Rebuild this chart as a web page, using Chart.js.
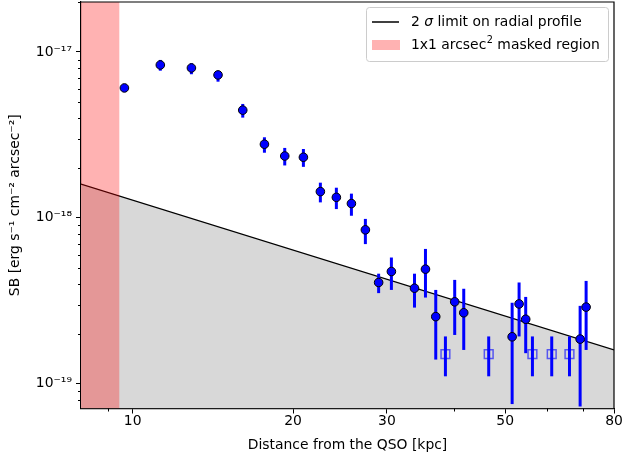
<!DOCTYPE html>
<html>
<head>
<meta charset="utf-8">
<script src="https://cdn.jsdelivr.net/npm/chart.js@4.4.0/dist/chart.umd.min.js"></script>
<style>
  html, body { margin: 0; padding: 0; background: #fff; }
  #wrap { width: 622px; height: 460px; }
</style>
</head>
<body>
<div id="wrap"><canvas id="sbChart" width="622" height="460"></canvas></div>
<script>
// radial profile (detections)
const distKpc = [9.65, 11.27, 12.89, 14.46, 16.09, 17.67, 19.29, 20.91, 22.50, 24.11, 25.73, 27.33,
  28.94, 30.58, 33.79, 35.43, 37.04, 40.20, 41.80, 51.52, 53.09, 54.63, 69.11, 70.92];
const sbValues = [6.07e-18, 8.35e-18, 8.01e-18, 7.27e-18, 4.46e-18, 2.78e-18, 2.36e-18, 2.32e-18, 1.44e-18, 1.33e-18, 1.22e-18, 8.47e-19,
  4.08e-19, 4.75e-19, 3.77e-19, 4.91e-19, 2.54e-19, 3.12e-19, 2.68e-19, 1.92e-19, 3.03e-19, 2.45e-19, 1.86e-19, 2.90e-19];
const sbLow = [5.85e-18, 7.71e-18, 7.34e-18, 6.62e-18, 4.02e-18, 2.47e-18, 2.07e-18, 2.03e-18, 1.24e-18, 1.13e-18, 1.03e-18, 6.95e-19,
  3.52e-19, 3.68e-19, 2.88e-19, 3.31e-19, 1.40e-19, 1.97e-19, 1.60e-19, 7.55e-20, 1.93e-19, 1.53e-19, 7.3e-20, 1.60e-19];
const sbHigh = [6.3e-18, 8.95e-18, 8.55e-18, 7.71e-18, 4.86e-18, 3.06e-18, 2.64e-18, 2.60e-18, 1.63e-18, 1.52e-18, 1.40e-18, 9.86e-19,
  4.61e-19, 5.77e-19, 4.61e-19, 6.50e-19, 3.68e-19, 4.23e-19, 3.74e-19, 3.08e-19, 4.08e-19, 3.34e-19, 2.95e-19, 4.17e-19];

// open squares (non detections)
const limDist = [38.62, 46.56, 56.24, 61.13, 66.00];
const limSB = [1.51e-19, 1.51e-19, 1.51e-19, 1.51e-19, 1.51e-19];
const limLow = [1.11e-19, 1.11e-19, 1.11e-19, 1.11e-19, 1.11e-19];
const limHigh = [1.93e-19, 1.93e-19, 1.93e-19, 1.93e-19, 1.93e-19];

// 2 sigma limit line and masked region
const sigmaX = [8, 80];
const sigmaY = [1.6e-18, 1.6e-19];
const maskX = [8, 9.45];

// axes
const xRange = [8, 80];
const yRange = [7.1e-20, 2.0e-17];
const xTicks = [10, 20, 30, 50, 80];
const xTickLabels = ['10', '20', '30', '50', '80'];
const xMinor = [9, 40, 60, 70];
const yTicks = [1e-19, 1e-18, 1e-17];
const yTickLabels = ['10⁻¹⁹', '10⁻¹⁸', '10⁻¹⁷'];

const FONT = "'DejaVu Sans', sans-serif";
const FS = 13.9;
Chart.defaults.font.family = FONT;
Chart.defaults.font.size = FS;
Chart.defaults.color = '#000';

const errs = {
  profile: { low: sbLow, high: sbHigh },
  limits: { low: limLow, high: limHigh }
};

// error bars drawn just before their points
const errorBars = {
  id: 'errorBars',
  beforeDatasetDraw(chart, args) {
    const ds = chart.data.datasets[args.index];
    const e = errs[ds.label];
    if (!e) return;
    const { ctx, scales: { x, y } } = chart;
    ctx.save();
    ctx.strokeStyle = '#0000ff';
    ctx.lineWidth = 3;
    ds.data.forEach((p, i) => {
      const px = x.getPixelForValue(p.x);
      ctx.beginPath();
      ctx.moveTo(px, y.getPixelForValue(e.low[i]));
      ctx.lineTo(px, y.getPixelForValue(e.high[i]));
      ctx.stroke();
    });
    ctx.restore();
  }
};

// minor ticks + top/right frame
const frameTicks = {
  id: 'frameTicks',
  afterDraw(chart) {
    const { ctx, chartArea: a, scales: { x, y } } = chart;
    ctx.save();
    ctx.strokeStyle = '#000';
    ctx.lineWidth = 1;
    xMinor.forEach(v => {
      const px = Math.round(x.getPixelForValue(v)) + 0.5;
      ctx.beginPath(); ctx.moveTo(px, a.bottom); ctx.lineTo(px, a.bottom + 3); ctx.stroke();
    });
    for (let d = -20; d <= -17; d++) {
      for (let m = 2; m <= 9; m++) {
        const v = m * Math.pow(10, d);
        if (v < yRange[0] || v > yRange[1]) continue;
        const py = Math.round(y.getPixelForValue(v)) + 0.5;
        ctx.beginPath(); ctx.moveTo(a.left, py); ctx.lineTo(a.left - 3, py); ctx.stroke();
      }
    }
    ctx.lineWidth = 1.2;
    ctx.beginPath();
    ctx.moveTo(a.left, a.top); ctx.lineTo(a.right, a.top); ctx.lineTo(a.right, a.bottom);
    ctx.stroke();
    ctx.restore();
  }
};

const legendBox = {
  id: 'legendBox',
  afterDraw(chart) {
    const ctx = chart.ctx;
    const bx = 366.5, by = 7.5, bw = 242, bh = 54, r = 3;
    ctx.save();
    ctx.beginPath();
    ctx.moveTo(bx + r, by);
    ctx.arcTo(bx + bw, by, bx + bw, by + bh, r);
    ctx.arcTo(bx + bw, by + bh, bx, by + bh, r);
    ctx.arcTo(bx, by + bh, bx, by, r);
    ctx.arcTo(bx, by, bx + bw, by, r);
    ctx.closePath();
    ctx.fillStyle = 'rgba(255,255,255,0.8)';
    ctx.fill();
    ctx.strokeStyle = '#cccccc';
    ctx.lineWidth = 1;
    ctx.stroke();

    ctx.strokeStyle = '#000';
    ctx.lineWidth = 1.5;
    ctx.beginPath(); ctx.moveTo(372, 22); ctx.lineTo(399, 22); ctx.stroke();
    ctx.fillStyle = 'rgba(255,0,0,0.3)';
    ctx.fillRect(372, 40, 28, 10);

    ctx.fillStyle = '#000';
    ctx.textBaseline = 'middle';
    let tx = 411;
    ctx.font = FS + 'px ' + FONT;
    ctx.fillText('2 ', tx, 22); tx += ctx.measureText('2 ').width;
    ctx.font = 'italic ' + FS + 'px ' + FONT;
    ctx.fillText('σ', tx, 22); tx += ctx.measureText('σ').width;
    ctx.font = FS + 'px ' + FONT;
    ctx.fillText(' limit on radial profile', tx, 22);

    tx = 411;
    ctx.fillText('1x1 arcsec', tx, 45); tx += ctx.measureText('1x1 arcsec').width;
    ctx.font = '9.7px ' + FONT;
    ctx.fillText('2', tx + 0.5, 40); tx += ctx.measureText('2').width + 0.5;
    ctx.font = FS + 'px ' + FONT;
    ctx.fillText(' masked region', tx, 45);
    ctx.restore();
  }
};

function noPad(s) {
  s.paddingTop = 0; s.paddingBottom = 0; s.paddingLeft = 0; s.paddingRight = 0;
}

new Chart(document.getElementById('sbChart'), {
  type: 'scatter',
  data: {
    datasets: [
      {
        label: 'sigma', type: 'line',
        data: sigmaX.map((x, i) => ({ x, y: sigmaY[i] })),
        borderColor: '#000', borderWidth: 1.3, backgroundColor: '#d8d8d8',
        fill: 'start', pointRadius: 0, order: 3
      },
      {
        label: 'mask', type: 'line',
        data: maskX.map(x => ({ x, y: yRange[1] })),
        borderColor: 'rgba(0,0,0,0)', borderWidth: 0, backgroundColor: 'rgba(255,0,0,0.3)',
        fill: 'start', pointRadius: 0, order: 2
      },
      {
        label: 'limits',
        data: limDist.map((x, i) => ({ x, y: limSB[i] })),
        pointStyle: 'rect', pointRadius: 6.2, backgroundColor: 'rgba(0,0,0,0)',
        borderColor: 'rgba(0,0,255,0.6)', borderWidth: 1.5, order: 1
      },
      {
        label: 'profile',
        data: distKpc.map((x, i) => ({ x, y: sbValues[i] })),
        pointRadius: 4.3, backgroundColor: '#0000ff', borderColor: '#000', borderWidth: 1, order: 0
      }
    ]
  },
  options: {
    responsive: false,
    animation: false,
    events: [],
    layout: { autoPadding: false, padding: { left: 0, right: 8, top: 2, bottom: 0 } },
    plugins: { legend: { display: false }, tooltip: { enabled: false } },
    scales: {
      x: {
        type: 'logarithmic', position: 'bottom', min: xRange[0], max: xRange[1],
        afterBuildTicks: s => { s.ticks = xTicks.map(v => ({ value: v })); },
        afterFit: s => { s.height = 51.5; noPad(s); },
        ticks: { callback: (v, i) => xTickLabels[i], maxRotation: 0, autoSkip: false, padding: 0, color: '#000' },
        grid: { display: true, drawOnChartArea: false, drawTicks: true, tickLength: 5, color: '#000' },
        border: { display: true, color: '#000', width: 1.2 },
        title: { display: true, text: 'Distance from the QSO [kpc]', color: '#000', padding: 6 }
      },
      y: {
        type: 'logarithmic', position: 'left', min: yRange[0], max: yRange[1],
        afterBuildTicks: s => { s.ticks = yTicks.map(v => ({ value: v })); },
        afterFit: s => { s.width = 81; noPad(s); },
        ticks: { callback: (v, i) => yTickLabels[i], autoSkip: false, padding: 4, color: '#000' },
        grid: { display: true, drawOnChartArea: false, drawTicks: true, tickLength: 5, color: '#000' },
        border: { display: true, color: '#000', width: 1.2 },
        title: { display: true, text: 'SB [erg s⁻¹ cm⁻² arcsec⁻²]', color: '#000', padding: 7 }
      }
    }
  },
  plugins: [errorBars, frameTicks, legendBox]
});
</script>
</body>
</html>
